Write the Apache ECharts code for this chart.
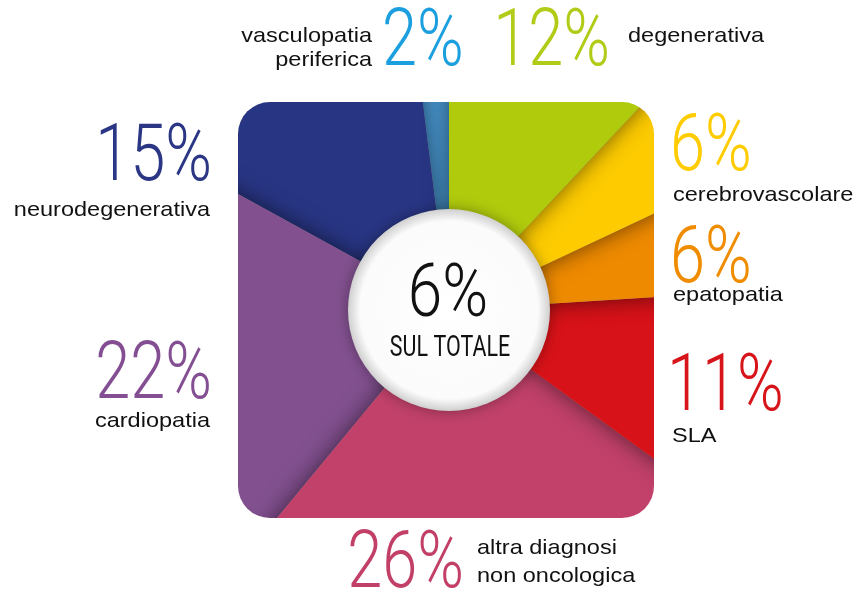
<!DOCTYPE html>
<html>
<head>
<meta charset="utf-8">
<script src="https://cdn.jsdelivr.net/npm/echarts@6/dist/echarts.min.js"></script>
<style>
  html, body { margin: 0; padding: 0; background: #fff; }
  #labels, #pie { position: absolute; left: 0; top: 0; width: 857px; height: 591px; }
  /* the pie only shows inside a rounded square */
  #pie { clip-path: inset(102px 203px 73px 238px round 32px); }
</style>
</head>
<body>
<div id="labels"></div>
<div id="pie"></div>
<script>
// dati (in senso orario dall'alto)
const categories = ['degenerativa', 'cerebrovascolare', 'epatopatia', 'SLA',
  'altra diagnosi\nnon oncologica', 'cardiopatia', 'neurodegenerativa', 'vasculopatia\nperiferica'];
const shares = [12, 6, 6, 11, 26, 22, 15, 2];
const centerShare = 6;
const centerCaption = 'SUL TOTALE';

const sliceColors = ['#b0ca0c', '#fdcb00', '#ee8a00', '#d71218', '#c1416a', '#82508f', '#283583', '#4a99d3'];
const labelColors = ['#b2cb17', '#fecc00', '#ef8c00', '#d7141a', '#c23f68', '#834f92', '#2b3784', '#1c9fdf'];

// posizione etichette: numero (x, baseline, align) e nome (x, baseline, align, interlinea)
const labelPos = [
  { nx: 610, ny: 70, na: 'right', tx: 628, ty: 43, ta: 'left', lh: 24 },
  { nx: 670, ny: 175, na: 'left', tx: 673, ty: 202, ta: 'left', lh: 24 },
  { nx: 670, ny: 287, na: 'left', tx: 673, ty: 302, ta: 'left', lh: 24 },
  { nx: 667, ny: 415, na: 'left', tx: 672, ty: 443, ta: 'left', lh: 24 },
  { nx: 464, ny: 592, na: 'right', tx: 477, ty: 555, ta: 'left', lh: 28 },
  { nx: 212, ny: 403, na: 'right', tx: 210, ty: 428, ta: 'right', lh: 24 },
  { nx: 212, ny: 185, na: 'right', tx: 210, ty: 217, ta: 'right', lh: 24 },
  { nx: 382, ny: 70, na: 'left', tx: 372, ty: 43, ta: 'right', lh: 24 }
];

const BIG = 79, SMALL = 21;

// testo posizionato sulla baseline (zrender usa textBaseline 'middle')
function txt(x, baseline, text, size, family, weight, color, align, sx, k) {
  return {
    type: 'text', x: x, y: baseline - size * k, scaleX: sx, silent: true, z: 100,
    style: {
      text: text, fill: color, align: align, verticalAlign: 'middle',
      font: weight + ' ' + size + 'px ' + family
    }
  };
}

let graphics = [];
for (let i = 0; i < categories.length; i++) {
  const p = labelPos[i];
  graphics.push(txt(p.nx, p.ny, shares[i] + '%', BIG, 'Roboto', 300, labelColors[i], p.na, 0.8, 0.31));
  categories[i].split('\n').forEach(function (line, j) {
    graphics.push(txt(p.tx, p.ty + j * p.lh, line, SMALL, '"Liberation Sans"', 'normal', '#111', p.ta, 1.12, 0.34));
  });
}

const labelChart = echarts.init(document.getElementById('labels'));
labelChart.setOption({
  backgroundColor: '#fff',
  animation: false,
  graphic: graphics
});

// torta: ordine invertito così ogni fetta fa ombra su quella precedente
let pieData = [];
for (let i = categories.length - 1; i >= 0; i--) {
  pieData.push({ name: categories[i], value: shares[i], itemStyle: { color: sliceColors[i] } });
}

const pieChart = echarts.init(document.getElementById('pie'));
pieChart.setOption({
  backgroundColor: 'transparent',
  animation: false,
  series: [
    {
      type: 'pie',
      center: [449, 310],
      radius: [0, 340],
      startAngle: 90,
      clockwise: false,
      silent: true,
      label: { show: false },
      labelLine: { show: false },
      itemStyle: { shadowBlur: 22, shadowColor: 'rgba(0,0,0,0.55)' },
      data: pieData
    },
    {
      type: 'pie',
      center: [449, 310],
      radius: [0, 101],
      silent: true,
      label: { show: false },
      labelLine: { show: false },
      itemStyle: {
        color: {
          type: 'radial', x: 0.5, y: 0.5, r: 0.5,
          colorStops: [
            { offset: 0, color: '#ffffff' },
            { offset: 0.88, color: '#fbfbfb' },
            { offset: 1, color: '#cfcfcf' }
          ]
        },
        shadowBlur: 14,
        shadowColor: 'rgba(0,0,0,0.35)'
      },
      data: [{ value: 1, name: 'totale' }]
    }
  ],
  graphic: [
    txt(448, 320, centerShare + '%', 74, 'Roboto', 300, '#111', 'center', 0.84, 0.31),
    txt(450, 358, centerCaption, 29, 'Roboto', 'normal', '#111', 'center', 0.74, 0.31)
  ]
});
</script>
</body>
</html>
